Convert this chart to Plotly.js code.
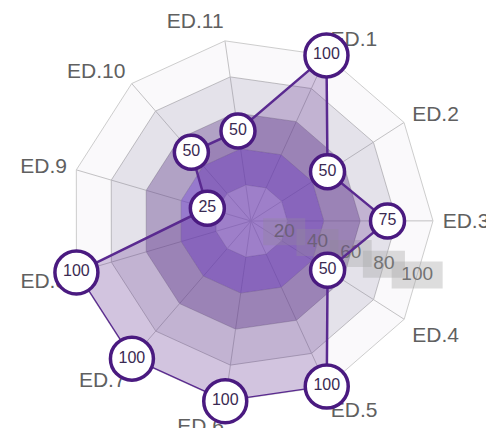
<!DOCTYPE html>
<html><head><meta charset="utf-8">
<script src="https://cdn.plot.ly/plotly-3.0.1.min.js"></script>
<style>html,body{margin:0;padding:0;background:#fff;}#chart{width:486px;height:428px;}</style>
</head><body><div id="chart"></div>
<script>
// ---- data ----
const categories = ['ED.1','ED.2','ED.3','ED.4','ED.5','ED.6','ED.7','ED.8','ED.9','ED.10','ED.11'];
const values = [100, 50, 75, 50, 100, 100, 100, 100, 25, 50, 50];
const bandLevels = [20, 40, 60, 80, 100];
const tickVals = [20, 40, 60, 80, 100];
const tickText = ['20', '40', '60', '80', '100'];

// ---- styles ----
const bandColors = ['rgba(130,90,200,0.6)','rgba(105,62,182,0.69)','rgba(100,70,140,0.5)','rgba(120,110,150,0.2)','rgba(120,110,150,0.04)'];
const W = 486, H = 428, CX = 251, CY = 221, R = 182;
const dom = {x: [(CX - R) / W, (CX + R) / W], y: [1 - (CY + R) / H, 1 - (CY - R) / H]};
const ROT = 65.5;
const FONT = 'Liberation Sans, Arial, sans-serif';

const closed = categories.concat([categories[0]]);
const traces = [];
// bands (bottom subplot: polar)
bandLevels.forEach((lvl, i) => {
  const inner = i === 0 ? 0 : bandLevels[i - 1];
  traces.push({
    type: 'scatterpolar', subplot: 'polar', mode: 'lines',
    theta: closed.concat(closed.slice().reverse()),
    r: closed.map(() => lvl).concat(closed.map(() => inner)),
    fill: 'toself', fillcolor: bandColors[i], line: {width: 0}, hoverinfo: 'skip'
  });
});
// radial tick labels with boxes (middle subplot: polar2)
const boxCol = 'rgba(165,165,165,0.38)';
traces.push({
  type: 'scatterpolar', subplot: 'polar2', mode: 'markers+text',
  r: tickVals.map(v => v * 0.96), theta: tickVals.map(() => -18),
  text: tickText, textposition: 'middle center',
  textfont: {family: FONT, size: 19, color: '#737373'},
  marker: {symbol: 'line-ew', opacity: 1, size: tickText.map(t => (t.length * 9 + 24) / 1.4), color: boxCol, line: {color: boxCol, width: 27}},
  hoverinfo: 'skip'
});
// data polygon (top subplot: polar3)
traces.push({
  type: 'scatterpolar', subplot: 'polar3', mode: 'lines',
  r: values.concat([values[0]]), theta: closed,
  fill: 'toself', fillcolor: 'rgba(90,40,140,0.25)',
  line: {color: '#5a2a90', width: 2.5}, hoverinfo: 'skip'
});
traces.push({
  type: 'scatterpolar', subplot: 'polar3', mode: 'markers+text',
  r: values, theta: categories,
  text: values.map(String), textposition: 'middle center',
  textfont: {family: FONT, size: 16, color: '#3a2a52'},
  marker: {opacity: 1, size: values.map(v => String(v).length >= 3 ? 43 : 34), color: '#ffffff', line: {color: '#4a1a80', width: 3.5}},
  hoverinfo: 'skip'
});

const hiddenAng = {type: 'category', categoryarray: categories, rotation: ROT, direction: 'clockwise',
  showgrid: false, showline: false, showticklabels: false, ticks: ''};
const hiddenRad = {range: [0, 100], autorange: false, visible: false, showgrid: false, showline: false, showticklabels: false, ticks: ''};

const layout = {
  width: W, height: H, margin: {l: 0, r: 0, t: 0, b: 0},
  paper_bgcolor: '#fff', showlegend: false,
  font: {family: FONT},
  polar: {
    domain: dom, gridshape: 'linear', bgcolor: '#fff',
    angularaxis: {type: 'category', categoryarray: categories, rotation: ROT, direction: 'clockwise',
      tickfont: {size: 21, color: '#606060'}, gridcolor: '#c6c6c6', showline: true, linecolor: '#cdcdcd',
      ticks: 'outside', ticklen: 5, tickcolor: 'rgba(0,0,0,0)'},
    radialaxis: {range: [0, 100], autorange: false, tickvals: tickVals, showticklabels: false,
      gridcolor: '#c6c6c6', showline: false, ticks: ''}
  },
  polar2: {
    domain: dom, bgcolor: 'rgba(0,0,0,0)',
    angularaxis: {rotation: 0, direction: 'counterclockwise', showgrid: false, showline: false, showticklabels: false, ticks: ''},
    radialaxis: hiddenRad
  },
  polar3: {domain: dom, gridshape: 'linear', bgcolor: 'rgba(0,0,0,0)', angularaxis: hiddenAng, radialaxis: hiddenRad}
};
Plotly.newPlot('chart', traces, layout, {staticPlot: true, displayModeBar: false});
</script></body></html>
